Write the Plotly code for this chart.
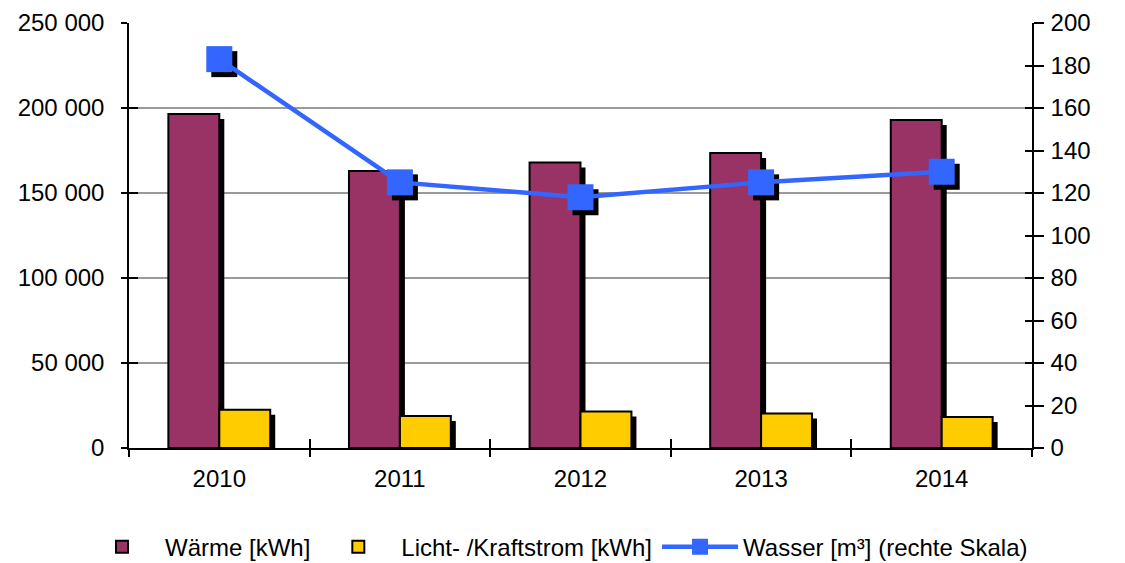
import plotly.graph_objects as go

years = ["2010", "2011", "2012", "2013", "2014"]
waerme = [196500, 163000, 168000, 173500, 193000]
licht = [22500, 18800, 21500, 20300, 18300]
wasser = [183, 125, 118, 125, 130]
left_ticks = [0, 50000, 100000, 150000, 200000, 250000]
left_labels = ["0", "50 000", "100 000", "150 000", "200 000", "250 000"]

xpos = list(range(len(years)))
xbounds = [p - 0.5 for p in xpos] + [xpos[-1] + 0.5]

# style constants (pixel offsets of the drop shadows converted to axis units)
PLOT_W, PLOT_H = 903, 425
YMAX, Y2MAX = 250000, 200
SH_PX = 5
sx = SH_PX / (PLOT_W / 5)
sy = SH_PX * YMAX / PLOT_H
sy2 = SH_PX * Y2MAX / PLOT_H
BW = 0.282

FONT = "Liberation Sans, Arial, sans-serif"
FS = 24

fig = go.Figure()

# shadows of bars
fig.add_trace(go.Bar(x=xpos, y=[v - sy for v in waerme], width=BW, offset=-BW + sx,
                     marker=dict(color="black", line=dict(width=0)), showlegend=False, hoverinfo="skip"))
fig.add_trace(go.Bar(x=xpos, y=[v - sy for v in licht], width=BW, offset=sx,
                     marker=dict(color="black", line=dict(width=0)), showlegend=False, hoverinfo="skip"))
# bars
fig.add_trace(go.Bar(x=xpos, y=waerme, width=BW, offset=-BW, name="Wärme [kWh]",
                     marker=dict(color="#993366", line=dict(color="black", width=2))))
fig.add_trace(go.Bar(x=xpos, y=licht, width=BW, offset=0, name="Licht- /Kraftstrom [kWh]",
                     marker=dict(color="#FFCC00", line=dict(color="black", width=2))))
# marker shadows
fig.add_trace(go.Scatter(x=[p + sx for p in xpos], y=[v - sy2 for v in wasser], mode="markers",
                         marker=dict(symbol="square", size=26, color="black"),
                         yaxis="y2", showlegend=False, hoverinfo="skip"))
# water line
fig.add_trace(go.Scatter(x=xpos, y=wasser, mode="lines+markers", name="Wasser [m³] (rechte Skala)",
                         line=dict(color="#3366FF", width=4.5),
                         marker=dict(symbol="square", size=26, color="#3366FF"),
                         yaxis="y2"))
# invisible helper traces so the inner-tick axes are drawn
fig.add_trace(go.Scatter(x=xpos, y=waerme, xaxis="x2", yaxis="y3", mode="markers",
                         marker=dict(opacity=0), showlegend=False, hoverinfo="skip"))
fig.add_trace(go.Scatter(x=xpos, y=wasser, xaxis="x2", yaxis="y4", mode="markers",
                         marker=dict(opacity=0), showlegend=False, hoverinfo="skip"))

tick_common = dict(tickcolor="black", tickwidth=1.5, showgrid=False, zeroline=False,
                   automargin=False)

fig.update_layout(
    width=1117, height=555,
    margin=dict(l=121, r=93, t=15, b=115, autoexpand=False),
    paper_bgcolor="white", plot_bgcolor="white",
    barmode="overlay",
    font=dict(family=FONT, size=FS, color="black"),
    xaxis=dict(range=[-0.5, 4.5], tickvals=xpos, ticktext=years, ticks="",
               showline=True, linecolor="black", linewidth=1.5, showgrid=False, zeroline=False,
               ticklabelstandoff=8, automargin=False,
               minor=dict(tickvals=xbounds, ticks="outside",
                          ticklen=7, tickcolor="black", tickwidth=1.5, showgrid=False),
               tickfont=dict(size=FS)),
    xaxis2=dict(range=[-0.5, 4.5], overlaying="x", anchor="y", side="bottom",
                tickvals=xbounds, ticks="inside", ticklen=9, showticklabels=False,
                showline=False, **tick_common),
    yaxis=dict(range=[0, YMAX], tickvals=left_ticks, ticktext=left_labels,
               ticks="outside", ticklen=6, tickcolor="black", tickwidth=1.5,
               showline=True, linecolor="black", linewidth=1.5, automargin=False,
               showgrid=True, gridcolor="#9A9A9A", gridwidth=1.5, zeroline=False,
               ticklabelstandoff=12, tickfont=dict(size=FS)),
    yaxis2=dict(range=[0, Y2MAX], dtick=20, overlaying="y", side="right",
                ticks="outside", ticklen=10, tickcolor="black", tickwidth=1.5,
                showline=True, linecolor="black", linewidth=1.5, automargin=False,
                showgrid=False, zeroline=False, ticklabelstandoff=2, tickfont=dict(size=FS)),
    yaxis3=dict(range=[0, YMAX], tickvals=left_ticks, overlaying="y", anchor="x2", side="left",
                ticks="inside", ticklen=9, showticklabels=False, showline=False, **tick_common),
    yaxis4=dict(range=[0, Y2MAX], dtick=20, overlaying="y", anchor="x2", side="right",
                ticks="inside", ticklen=7, showticklabels=False, showline=False, **tick_common),
    legend=dict(orientation="h", x=-0.0554, xanchor="left", y=-0.233, yanchor="middle",
                font=dict(size=FS), itemwidth=76, traceorder="normal"),
)

fig.write_html("out.html")
